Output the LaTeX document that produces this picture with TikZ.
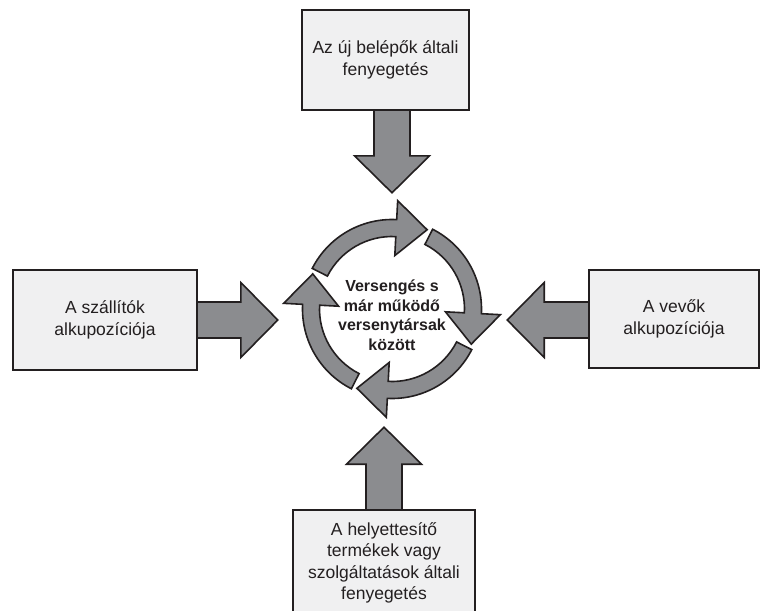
\documentclass[tikz,border=0pt]{standalone}
\usepackage{fontspec}
\setmainfont{Liberation Sans}
\usetikzlibrary{calc}
\definecolor{boxfill}{HTML}{F0F0F1}
\definecolor{arrowfill}{HTML}{8B8C8F}
\definecolor{ink}{HTML}{231F20}

% straight block arrow: base point, direction (deg), total length
\newcommand\forcearrow[3]{%
  \begin{scope}[shift={#1}, rotate=#2]
    \draw[blockarrow] (0,-18) -- ({#3-37},-18) -- ({#3-37},-37.5) -- (#3,0)
      -- ({#3-37},37.5) -- ({#3-37},18) -- (0,18);
  \end{scope}}

\begin{document}
\begin{tikzpicture}[x=1pt,y=-1pt,
  blockarrow/.style={draw=ink, line width=1.6pt, fill=arrowfill, line join=miter},
  forcebox/.style={draw=ink, line width=1.6pt, fill=boxfill, text=ink, align=center,
    font=\fontsize{17.5}{21.5}\selectfont, inner sep=0pt},
  hubtext/.style={text=ink, align=center, font=\fontsize{16}{19.5}\selectfont\bfseries}]
\useasboundingbox (0,0) rectangle (767,610);
\clip (0,0) rectangle (767,610);
\fill[white] (0,0) rectangle (767,610);

\coordinate (hub) at (392,309);

% box geometry (drawn after the arrows below)
\path (385.5,60)  node[forcebox, draw=none, fill=none, minimum width=167, minimum height=100] (top) {};
\path (105,320)   node[forcebox, draw=none, fill=none, minimum width=184, minimum height=100] (left) {};
\path (674,319)   node[forcebox, draw=none, fill=none, minimum width=170, minimum height=98] (right) {};
\path (384,563)   node[forcebox, draw=none, fill=none, minimum width=182, minimum height=106] (bottom) {};

% arrows from the four forces towards the centre
\forcearrow{($(top.south)+(6.5,0)$)}{-90}{82}
\forcearrow{($(left.east)$)}{0}{80}
\forcearrow{($(right.west)+(0,1)$)}{180}{81}
\forcearrow{($(bottom.north)$)}{90}{82}

% the boxes themselves
\node[forcebox, minimum width=167, minimum height=100] at (top) {Az új belépők általi\\fenyegetés};
\node[forcebox, minimum width=184, minimum height=100] at (left) {A szállítók\\alkupozíciója};
\node[forcebox, minimum width=170, minimum height=98] at (right) {A vevők\\alkupozíciója};
\node[forcebox, minimum width=182, minimum height=106] at (bottom) {A helyettesítő\\termékek vagy\\szolgáltatások általi\\fenyegetés};

% rivalry cycle: four curved arrows running clockwise
\begin{scope}[shift={(hub)}]
  \foreach \k in {0,1,2,3}{
    \pgfmathsetmacro\ab{-87+90*\k}
    \pgfmathsetmacro\as{\ab-66}
    \pgfmathsetmacro\at{\ab+20.9}
    \draw[blockarrow] (\as:89.5) arc[start angle=\as, end angle=\ab, radius=89.5]
      -- (\ab:108.5) -- (\at:86.7) -- (\ab:53.5) -- (\ab:72.5)
      arc[start angle=\ab, end angle=\as, radius=72.5] -- cycle;
  }
\end{scope}
\node[hubtext] (rivalry) at ($(hub)+(0,6)$) {Versengés s\\már működő\\versenytársak\\között};
\end{tikzpicture}
\end{document}
